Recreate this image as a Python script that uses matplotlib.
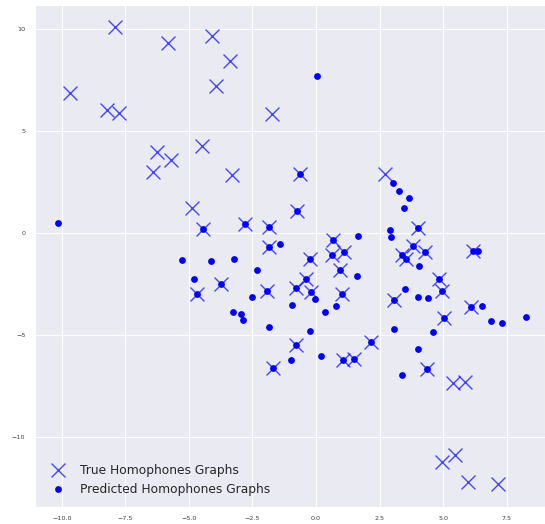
import matplotlib
matplotlib.use("Agg")
import matplotlib.pyplot as plt
import seaborn as sns

# 2-D embedding of homophone graphs: ground truth vs. model predictions
true_x = [-9.69, -7.92, -5.83, -4.10, -3.40, -3.93, -8.21, -7.74, -1.73, -6.25,
          -5.72, -6.40, -4.48, -3.32, -4.88, 2.71, 5.40, 5.84, 4.94, 5.45,
          5.99, 7.15,
          -4.44, -2.81, -1.87, -1.86, -0.64, -0.75, 0.68, 0.64, 1.10, -0.25,
          0.95, -0.40, -0.78, -0.21, 1.00, 4.02, 3.83, 4.30, 3.38, 3.54,
          6.15, 4.83, 4.97, 3.05, 5.02, 6.08, 4.36, 2.14, 1.06, 1.48,
          -0.79, -1.69, -3.74, -4.68, -1.93]
true_y = [6.86, 10.10, 9.31, 9.67, 8.43, 7.21, 6.04, 5.91, 5.83, 3.99,
          3.59, 3.00, 4.29, 2.84, 1.22, 2.92, -7.32, -7.27, -11.21, -10.85,
          -12.17, -12.29,
          0.20, 0.47, 0.31, -0.69, 2.89, 1.09, -0.34, -1.06, -0.93, -1.26,
          -1.80, -2.24, -2.68, -2.90, -2.98, 0.25, -0.61, -0.94, -1.06, -1.27,
          -0.85, -2.23, -2.83, -3.25, -4.17, -3.60, -6.67, -5.32, -6.19, -6.17,
          -5.48, -6.61, -2.49, -2.99, -2.84]

pred_x = [-4.44, -2.81, -1.87, -1.86, -0.64, -0.75, 0.68, 0.64, 1.10, -0.25,
          0.95, -0.40, -0.78, -0.21, 1.00, 4.02, 3.83, 4.30, 3.38, 3.54,
          6.15, 4.83, 4.97, 3.05, 5.02, 6.08, 4.36, 2.14, 1.06, 1.48,
          -0.79, -1.69, -3.74, -4.68, -1.93,
          -10.15, -1.43, 0.04, 3.03, 3.27, 3.67, 3.46, 2.91, 2.94, 1.65,
          6.38, 4.05, 3.50, 1.60, -5.27, -4.13, -3.21, -2.33, -4.79, -2.51,
          -3.27, -2.94, -2.89, -1.85, -0.96, -0.99, -0.06, 0.35, 0.80, -0.24,
          0.20, 4.01, 4.41, 3.05, 3.37, 4.00, 4.58, 6.51, 6.88, 7.30, 8.25]
pred_y = [0.20, 0.47, 0.31, -0.69, 2.89, 1.09, -0.34, -1.06, -0.93, -1.26,
          -1.80, -2.24, -2.68, -2.90, -2.98, 0.25, -0.61, -0.94, -1.06, -1.27,
          -0.85, -2.23, -2.83, -3.25, -4.17, -3.60, -6.67, -5.32, -6.19, -6.17,
          -5.48, -6.61, -2.49, -2.99, -2.84,
          0.50, -0.53, 7.71, 2.45, 2.09, 1.72, 1.22, 0.14, -0.17, -0.11,
          -0.88, -1.58, -2.72, -2.09, -1.31, -1.37, -1.27, -1.82, -2.22, -3.12,
          -3.87, -3.97, -4.26, -4.57, -3.50, -6.20, -3.22, -3.84, -3.54, -4.79,
          -6.01, -3.11, -3.17, -4.69, -6.95, -5.65, -4.84, -3.55, -4.30, -4.38, -4.12]

sns.set_style("darkgrid")

fig = plt.figure(figsize=(5.45, 5.24), dpi=100)
ax = fig.add_axes([0.0642, 0.033, 0.9358, 0.9575])

ax.scatter(true_x, true_y, marker="x", s=100, color="blue", alpha=0.7,
           linewidths=1.0, label="True Homophones Graphs")
ax.scatter(pred_x, pred_y, marker="o", s=24, color="blue", linewidths=0,
           label="Predicted Homophones Graphs")

ax.set_xlim(-11.05, 9.0)
ax.set_ylim(-13.4, 11.19)
ax.set_xticks([-10, -7.5, -5, -2.5, 0, 2.5, 5, 7.5])
ax.set_yticks([-10, -5, 0, 5, 10])
ax.tick_params(labelsize=4.6, colors=".25")

ax.legend(loc="lower left", fontsize=8.8, frameon=False)

fig.savefig("out.png", dpi=100)
